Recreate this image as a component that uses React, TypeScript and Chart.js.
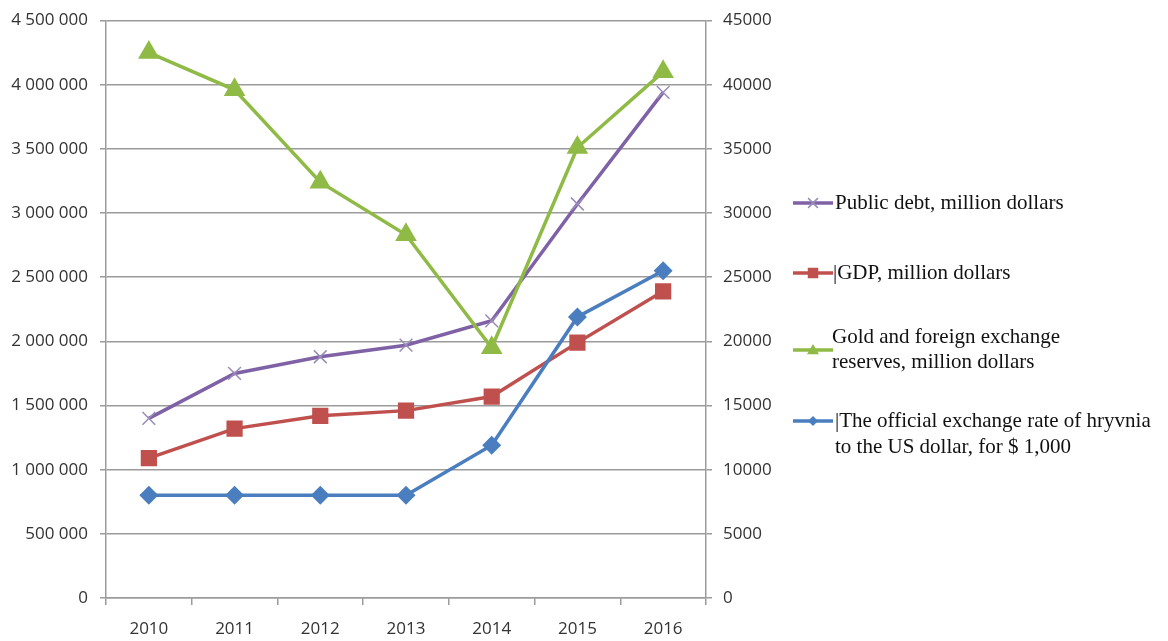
import React, { useEffect, useRef } from "react";
import { Chart, registerables } from "chart.js";

Chart.register(...registerables);

const years = ["2010", "2011", "2012", "2013", "2014", "2015", "2016"];
const publicDebt = [1400000, 1750000, 1880000, 1970000, 2160000, 3070000, 3940000];
const gdp = [1090000, 1320000, 1420000, 1460000, 1570000, 1990000, 2390000];
const goldReserves = [42500, 39600, 32400, 28300, 19500, 35100, 41000];
const exchangeRate = [8000, 8000, 8000, 8000, 11900, 21900, 25500];

const seriesNames = [
  "Public debt, million dollars",
  "|GDP, million dollars",
  "Gold and foreign exchange reserves, million dollars",
  "|The official exchange rate of hryvnia to the US dollar, for $ 1,000",
];

const PURPLE = "#7f62a6";
const PURPLE_MARK = "#9a8cb8";
const RED = "#c0504d";
const GREEN = "#8fba45";
const BLUE = "#4a7ebf";
const GRID = "#9b9b9b";
const TICK_FONT = { family: "'Open Sans', sans-serif", size: 17 };
const Y_TICK_FONT = { family: "'Open Sans', sans-serif", size: 17, lineHeight: 1 };

const legendSamples = [
  { y: 203, color: PURPLE, mark: PURPLE_MARK, style: "crossRot", r: 7 },
  { y: 273, color: RED, mark: RED, style: "rect", r: 7 },
  { y: 350, color: GREEN, mark: GREEN, style: "triangle", r: 6 },
  { y: 421, color: BLUE, mark: BLUE, style: "rectRot", r: 5 },
];

function drawMarker(ctx: CanvasRenderingContext2D, style: string, r: number, x: number, y: number) {
  ctx.beginPath();
  if (style === "crossRot") {
    ctx.moveTo(x - r * 0.7, y - r * 0.7);
    ctx.lineTo(x + r * 0.7, y + r * 0.7);
    ctx.moveTo(x - r * 0.7, y + r * 0.7);
    ctx.lineTo(x + r * 0.7, y - r * 0.7);
    ctx.stroke();
  } else if (style === "rect") {
    ctx.rect(x - r * 0.75, y - r * 0.75, r * 1.5, r * 1.5);
    ctx.fill();
  } else if (style === "triangle") {
    ctx.moveTo(x, y - r);
    ctx.lineTo(x + r, y + r * 0.7);
    ctx.lineTo(x - r, y + r * 0.7);
    ctx.closePath();
    ctx.fill();
  } else {
    ctx.moveTo(x, y - r);
    ctx.lineTo(x + r, y);
    ctx.lineTo(x, y + r);
    ctx.lineTo(x - r, y);
    ctx.closePath();
    ctx.fill();
  }
}

const legendPlugin = {
  id: "legendSamples",
  afterDraw(chart: any) {
    const ctx = chart.ctx;
    ctx.save();
    for (const s of legendSamples) {
      ctx.strokeStyle = s.color;
      ctx.lineWidth = 3.5;
      ctx.beginPath();
      ctx.moveTo(793, s.y);
      ctx.lineTo(833, s.y);
      ctx.stroke();
      ctx.fillStyle = s.mark;
      ctx.strokeStyle = s.mark;
      ctx.lineWidth = s.style === "crossRot" ? 1.5 : 1;
      drawMarker(ctx, s.style, s.r, 813, s.y);
    }
    ctx.restore();
  },
};

export default function App() {
  const ref = useRef<HTMLCanvasElement | null>(null);

  useEffect(() => {
    if (!ref.current) return;
    const chart = new Chart(ref.current, {
      type: "line",
      data: {
        labels: years,
        datasets: [
          {
            label: seriesNames[0],
            data: publicDebt,
            yAxisID: "y",
            borderColor: PURPLE,
            backgroundColor: PURPLE_MARK,
            pointStyle: "crossRot",
            pointRadius: 9,
            pointBorderColor: PURPLE_MARK,
            pointBorderWidth: 1.5,
            borderWidth: 3.5,
            order: 1,
          },
          {
            label: seriesNames[1],
            data: gdp,
            yAxisID: "y",
            borderColor: RED,
            backgroundColor: RED,
            pointStyle: "rect",
            pointRadius: 9,
            pointBorderColor: RED,
            pointBackgroundColor: RED,
            borderWidth: 3.5,
            order: 3,
          },
          {
            label: seriesNames[2],
            data: goldReserves,
            yAxisID: "y1",
            borderColor: GREEN,
            backgroundColor: GREEN,
            pointStyle: "triangle",
            pointRadius: 9,
            pointBorderColor: GREEN,
            pointBackgroundColor: GREEN,
            borderWidth: 3.5,
            order: 0,
          },
          {
            label: seriesNames[3],
            data: exchangeRate,
            yAxisID: "y1",
            borderColor: BLUE,
            backgroundColor: BLUE,
            pointStyle: "rectRot",
            pointRadius: 7,
            pointBorderColor: BLUE,
            pointBackgroundColor: BLUE,
            borderWidth: 3.5,
            order: 2,
          },
        ],
      },
      options: {
        animation: false,
        responsive: false,
        maintainAspectRatio: false,
        layout: { padding: { top: 18, right: 382, left: 0, bottom: 0 } },
        plugins: {
          legend: { display: false },
          tooltip: { enabled: false },
        },
        scales: {
          x: {
            offset: true,
            grid: {
              display: true,
              offset: true,
              drawOnChartArea: false,
              drawTicks: true,
              tickLength: 7,
              color: GRID,
              lineWidth: 1.5,
            },
            border: { display: true, color: GRID, width: 1.5 },
            ticks: { color: "#333", font: TICK_FONT, padding: 14 },
            afterFit: (s: any) => {
              s.height = 43;
            },
          },
          y: {
            position: "left",
            min: 0,
            max: 4500000,
            grid: { color: GRID, lineWidth: 1.5, tickLength: 6 },
            border: { display: true, color: GRID, width: 1.5 },
            ticks: {
              stepSize: 500000,
              color: "#333",
              font: Y_TICK_FONT,
              padding: 12,
              callback: (v: any) => String(v).replace(/\B(?=(\d{3})+(?!\d))/g, " "),
            },
            afterFit: (s: any) => {
              s.width = 106;
            },
          },
          y1: {
            position: "right",
            min: 0,
            max: 45000,
            grid: { drawOnChartArea: false, color: GRID, lineWidth: 1.5, tickLength: 6 },
            border: { display: true, color: GRID, width: 1.5 },
            ticks: {
              stepSize: 5000,
              color: "#333",
              font: Y_TICK_FONT,
              padding: 11,
              callback: (v: any) => String(v),
            },
            afterFit: (s: any) => {
              s.width = 80;
            },
          },
        },
      },
      plugins: [legendPlugin],
    });
    return () => chart.destroy();
  }, []);

  const serif = "'Liberation Serif', 'Times New Roman', serif";
  const textStyle: React.CSSProperties = {
    position: "absolute",
    fontFamily: serif,
    fontSize: 21,
    color: "#111",
    whiteSpace: "nowrap",
  };

  return (
    <div
      style={{
        position: "fixed",
        left: 0,
        top: 0,
        width: 1168,
        height: 641,
        background: "#fff",
        overflow: "hidden",
      }}
    >
      <canvas ref={ref} width={1168} height={641} style={{ display: "block" }} />
      <div style={{ ...textStyle, left: 835, top: 190, lineHeight: "25px" }}>{seriesNames[0]}</div>
      <div style={{ ...textStyle, left: 833, top: 260, lineHeight: "25px" }}>{seriesNames[1]}</div>
      <div style={{ ...textStyle, left: 832, top: 324, lineHeight: "25px" }}>
        Gold and foreign exchange
        <br />
        reserves, million dollars
      </div>
      <div style={{ ...textStyle, left: 835, top: 407, lineHeight: "26px" }}>
        |The official exchange rate of hryvnia
        <br />
        to the US dollar, for $ 1,000
      </div>
    </div>
  );
}
